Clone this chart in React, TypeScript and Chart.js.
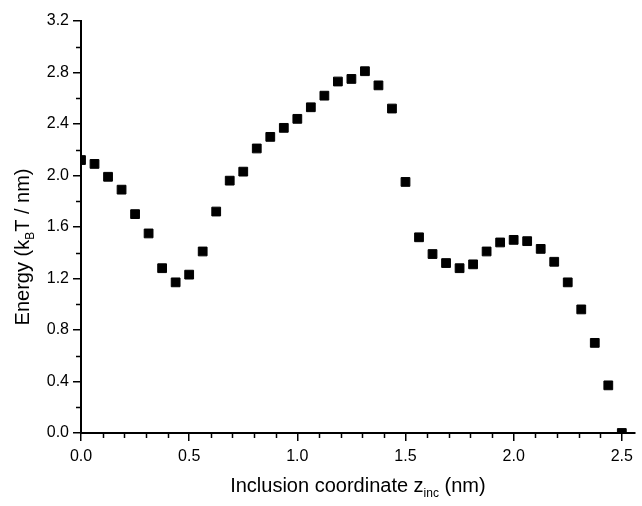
import React, { useEffect, useRef } from 'react';
import { Chart, registerables } from 'chart.js';

Chart.register(...registerables);

// Inclusion coordinate z_inc (nm)
const zInc = [
  0, 0.0625, 0.125, 0.1875, 0.25, 0.3125, 0.375, 0.4375, 0.5, 0.5625,
  0.625, 0.6875, 0.75, 0.8125, 0.875, 0.9375, 1.0, 1.0625, 1.125, 1.1875,
  1.25, 1.3125, 1.375, 1.4375, 1.5, 1.5625, 1.625, 1.6875, 1.75, 1.8125,
  1.875, 1.9375, 2.0, 2.0625, 2.125, 2.1875, 2.25, 2.3125, 2.375, 2.4375, 2.5,
];

// Energy (kBT / nm)
const energy = [
  2.12, 2.09, 1.99, 1.89, 1.70, 1.55, 1.28, 1.17, 1.23, 1.41,
  1.72, 1.96, 2.03, 2.21, 2.30, 2.37, 2.44, 2.53, 2.62, 2.73,
  2.75, 2.81, 2.70, 2.52, 1.95, 1.52, 1.39, 1.32, 1.28, 1.31,
  1.41, 1.48, 1.50, 1.49, 1.43, 1.33, 1.17, 0.96, 0.70, 0.37, 0.0,
];

const xMajorTicks = [0, 0.5, 1.0, 1.5, 2.0, 2.5];
const xMinorTicks = [
  0.1, 0.2, 0.3, 0.4, 0.6, 0.7, 0.8, 0.9, 1.1, 1.2, 1.3, 1.4,
  1.6, 1.7, 1.8, 1.9, 2.1, 2.2, 2.3, 2.4,
];
const yMajorTicks = [0, 0.4, 0.8, 1.2, 1.6, 2.0, 2.4, 2.8, 3.2];
const yMinorTicks = [0.2, 0.6, 1.0, 1.4, 1.8, 2.2, 2.6, 3.0];

const xTitleParts = ['Inclusion coordinate z', 'inc', ' (nm)'];
const yTitleParts = ['Energy (k', 'B', 'T / nm)'];

const FONT = "'Liberation Sans', Arial, Helvetica, sans-serif";

function drawSubText(ctx: CanvasRenderingContext2D, parts: string[], size: number, subSize: number, subDrop: number) {
  const main = `${size}px ${FONT}`;
  const sub = `${subSize}px ${FONT}`;
  ctx.font = main;
  const w0 = ctx.measureText(parts[0]).width;
  const w2 = ctx.measureText(parts[2]).width;
  ctx.font = sub;
  const w1 = ctx.measureText(parts[1]).width;
  const total = w0 + w1 + w2;
  let x = -total / 2;
  ctx.textAlign = 'left';
  ctx.textBaseline = 'alphabetic';
  ctx.font = main;
  ctx.fillText(parts[0], x, 0);
  x += w0;
  ctx.font = sub;
  ctx.fillText(parts[1], x, subDrop);
  x += w1;
  ctx.font = main;
  ctx.fillText(parts[2], x, 0);
}

const decorPlugin = {
  id: 'decor',
  afterDraw(chart: any) {
    const ctx: CanvasRenderingContext2D = chart.ctx;
    const xs = chart.scales.x;
    const ys = chart.scales.y;
    const area = chart.chartArea;
    ctx.save();
    ctx.strokeStyle = '#000';
    ctx.lineWidth = 1.5;
    ctx.beginPath();
    xMinorTicks.forEach((v) => {
      const px = Math.round(xs.getPixelForValue(v)) + 0.5;
      ctx.moveTo(px, area.bottom);
      ctx.lineTo(px, area.bottom + 5);
    });
    yMinorTicks.forEach((v) => {
      const py = Math.round(ys.getPixelForValue(v)) + 0.5;
      ctx.moveTo(area.left, py);
      ctx.lineTo(area.left - 5, py);
    });
    ctx.stroke();

    ctx.fillStyle = '#000';
    // x title
    ctx.save();
    ctx.translate((area.left + area.right) / 2, 492);
    drawSubText(ctx, xTitleParts, 20, 12, 5);
    ctx.restore();
    // y title
    ctx.save();
    ctx.translate(29, 247);
    ctx.rotate(-Math.PI / 2);
    drawSubText(ctx, yTitleParts, 20, 12, 5);
    ctx.restore();
    ctx.restore();
  },
};

export default function App() {
  const ref = useRef<HTMLCanvasElement | null>(null);
  useEffect(() => {
    if (!ref.current) return;
    const chart = new Chart(ref.current, {
      type: 'scatter',
      data: {
        datasets: [
          {
            data: zInc.map((z, i) => ({ x: z, y: energy[i] })),
            pointStyle: 'rect',
            pointRadius: 6.2,
            pointBorderWidth: 1,
            backgroundColor: '#000',
            borderColor: '#000',
            showLine: false,
          },
        ],
      },
      options: {
        animation: false,
        responsive: true,
        maintainAspectRatio: false,
        devicePixelRatio: 1,
        layout: { padding: { left: 0, top: 21, right: 2, bottom: 0 } },
        plugins: {
          legend: { display: false },
          tooltip: { enabled: false },
        },
        scales: {
          x: {
            type: 'linear',
            min: 0,
            max: 2.56,
            afterBuildTicks: (scale: any) => {
              scale.ticks = xMajorTicks.map((v) => ({ value: v }));
            },
            afterFit: (scale: any) => {
              scale.height = 73;
            },
            ticks: {
              color: '#000',
              font: { family: FONT, size: 16 },
              padding: 6,
              maxRotation: 0,
              autoSkip: false,
              callback: (v: any) => Number(v).toFixed(1),
            },
            grid: {
              display: true,
              drawOnChartArea: false,
              drawTicks: true,
              tickLength: 8,
              color: '#000',
              lineWidth: 1.5,
            },
            border: { display: true, color: '#000', width: 2 },
          },
          y: {
            type: 'linear',
            min: 0,
            max: 3.2,
            afterBuildTicks: (scale: any) => {
              scale.ticks = yMajorTicks.map((v) => ({ value: v }));
            },
            afterFit: (scale: any) => {
              scale.width = 81;
            },
            ticks: {
              color: '#000',
              font: { family: FONT, size: 16 },
              padding: 4,
              autoSkip: false,
              callback: (v: any) => Number(v).toFixed(1),
            },
            grid: {
              display: true,
              drawOnChartArea: false,
              drawTicks: true,
              tickLength: 8,
              color: '#000',
              lineWidth: 1.5,
            },
            border: { display: true, color: '#000', width: 2 },
          },
        },
      },
      plugins: [decorPlugin],
    } as any);
    return () => chart.destroy();
  }, []);
  return (
    <div style={{ position: 'absolute', left: 0, top: 0, width: 642, height: 506, background: '#fff' }}>
      <canvas ref={ref} />
    </div>
  );
}
